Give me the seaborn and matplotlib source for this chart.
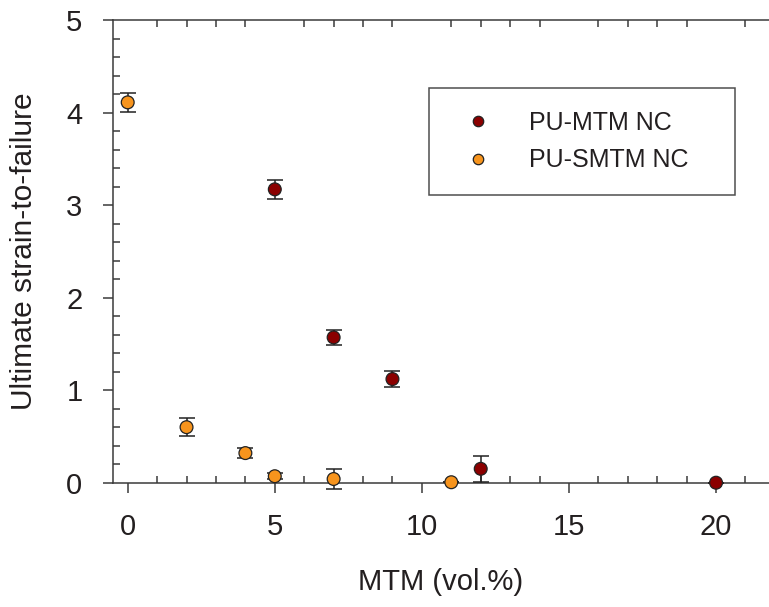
import matplotlib
matplotlib.use("Agg")
import matplotlib.pyplot as plt
import seaborn as sns
import pandas as pd
from matplotlib.ticker import MultipleLocator
from matplotlib.lines import Line2D

# Ultimate strain-to-failure vs. MTM loading
mtm_x = [5, 7, 9, 12, 20]
mtm_y = [3.17, 1.57, 1.12, 0.15, 0.0]
mtm_err = [0.10, 0.08, 0.09, 0.14, 0.0]

smtm_x = [0, 2, 4, 5, 7, 11]
smtm_y = [4.11, 0.60, 0.32, 0.07, 0.04, 0.005]
smtm_err = [0.10, 0.10, 0.05, 0.03, 0.11, 0.0]

series_names = ["PU-MTM NC", "PU-SMTM NC"]
colors = {"PU-MTM NC": "#8b0000", "PU-SMTM NC": "#f7941d"}

df = pd.concat([
    pd.DataFrame({"MTM": mtm_x, "strain": mtm_y, "err": mtm_err, "sample": series_names[0]}),
    pd.DataFrame({"MTM": smtm_x, "strain": smtm_y, "err": smtm_err, "sample": series_names[1]}),
])

sns.set_theme(style="ticks")
plt.rcParams["font.family"] = ["Liberation Sans", "DejaVu Sans"]
ink = "#231f20"
axc = "#3a3a3a"

fig = plt.figure(figsize=(7.69, 6.07), dpi=100)
ax = fig.add_axes([113 / 769, 1 - 482.7 / 607, (769 - 113) / 769, (482.7 - 20) / 607])

for name in series_names:
    sub = df[df["sample"] == name]
    ax.errorbar(sub["MTM"], sub["strain"], yerr=sub["err"], fmt="none",
                ecolor="#222222", elinewidth=1.1, capsize=5.5, capthick=1.1,
                zorder=3, clip_on=False)

sns.scatterplot(data=df, x="MTM", y="strain", hue="sample", palette=colors,
                hue_order=series_names, s=85, edgecolor="#222222", linewidth=0.9,
                ax=ax, zorder=4, legend=False, clip_on=False)

ax.set_xlim(-0.5, 21.8)
ax.set_ylim(0, 5)
ax.xaxis.set_major_locator(MultipleLocator(5))
ax.xaxis.set_minor_locator(MultipleLocator(1))
ax.yaxis.set_major_locator(MultipleLocator(1))
ax.yaxis.set_minor_locator(MultipleLocator(0.2))

ax.spines["right"].set_visible(False)
for side in ["left", "bottom", "top"]:
    ax.spines[side].set_color(axc)
    ax.spines[side].set_linewidth(1.1)

ax.tick_params(which="major", direction="out", length=7, width=1.1, color=axc,
               labelsize=21, labelcolor=ink, pad=15, top=False, right=False)
ax.tick_params(which="minor", direction="in", length=5, width=1.1, color=axc,
               top=True, right=False)

ax.set_xlabel("MTM (vol.%)", fontsize=21, color=ink, labelpad=19)
ax.set_ylabel("Ultimate strain-to-failure", fontsize=21.5, color=ink, labelpad=20)

handles = [Line2D([0], [0], marker="o", linestyle="none", markersize=7.5,
                  markerfacecolor=colors[n], markeredgecolor="#222222",
                  markeredgewidth=0.9) for n in series_names]
leg_x0, leg_x1, leg_top = 429 / 769, 735 / 769, 1 - 88 / 607
leg = ax.legend(handles, series_names, loc="upper left", mode="expand",
                bbox_to_anchor=(leg_x0, leg_top - 0.2, leg_x1 - leg_x0, 0.2),
                bbox_transform=fig.transFigure,
                fontsize=18, frameon=True, fancybox=False, borderpad=0.9,
                handletextpad=1.0, handlelength=2.1, borderaxespad=0, labelspacing=0.55)
leg.get_frame().set_edgecolor("#222222")
leg.get_frame().set_linewidth(1.1)
for t in leg.get_texts():
    t.set_color(ink)

fig.savefig("out.png", dpi=100)
